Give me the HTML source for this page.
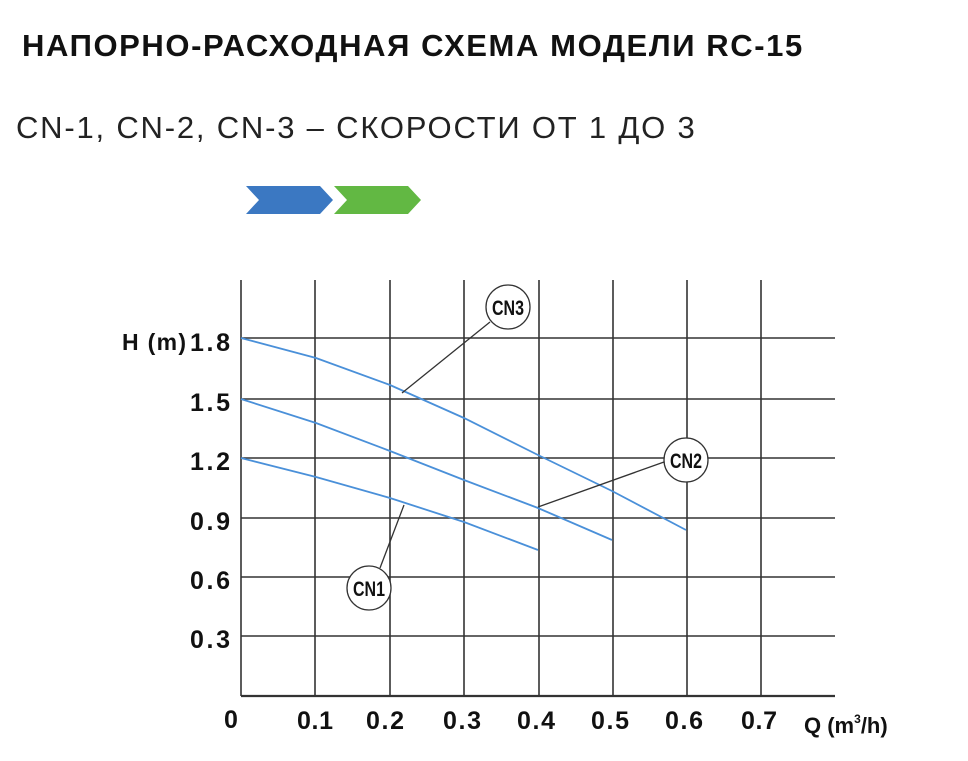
<!DOCTYPE html>
<html><head><meta charset="utf-8"><style>
body{margin:0;background:#fff;width:968px;height:761px;overflow:hidden;font-family:"Liberation Sans",sans-serif}
.t{position:absolute;left:22px;top:28px;font-size:31px;font-weight:bold;color:#111;letter-spacing:1.6px;white-space:nowrap}
.s{position:absolute;left:16px;top:110px;font-size:31px;color:#222;letter-spacing:1.8px;white-space:nowrap}
</style></head><body>
<div class="t">НАПОРНО-РАСХОДНАЯ СХЕМА МОДЕЛИ RC-15</div>
<div class="s">CN-1, CN-2, CN-3 – СКОРОСТИ ОТ 1 ДО 3</div>
<svg width="968" height="761" style="position:absolute;left:0;top:0">
<polygon points="246,186 320,186 333,200 320,214 246,214 259,200" fill="#3b78c2"/>
<polygon points="334,186 408,186 421,200 408,214 334,214 347,200" fill="#62b843"/>
<g stroke="#333" stroke-width="1.6">
<line x1="241" y1="280" x2="241" y2="696"/>
<line x1="315" y1="280" x2="315" y2="696"/><line x1="390" y1="280" x2="390" y2="696"/>
<line x1="464" y1="280" x2="464" y2="696"/><line x1="539" y1="280" x2="539" y2="696"/>
<line x1="613" y1="280" x2="613" y2="696"/><line x1="687" y1="280" x2="687" y2="696"/>
<line x1="761" y1="280" x2="761" y2="696"/>
<line x1="241" y1="338" x2="835" y2="338"/><line x1="241" y1="399" x2="835" y2="399"/>
<line x1="241" y1="458" x2="835" y2="458"/><line x1="241" y1="518" x2="835" y2="518"/>
<line x1="241" y1="577" x2="835" y2="577"/><line x1="241" y1="636" x2="835" y2="636"/>
<line x1="241" y1="696" x2="835" y2="696" stroke-width="2.2"/>
</g>
<g fill="none" stroke="#4a90d9" stroke-width="1.8">
<polyline points="241,338 316,358 390,385 464,418 538,455 612,491 686,530"/>
<polyline points="241,399 316,423 390,451 464,480 538,508 612,540"/>
<polyline points="241,458 316,477 390,498 464,522 538,550"/>
</g>
<g stroke="#333" stroke-width="1.3" fill="#fff">
<line x1="402" y1="393" x2="490" y2="322"/>
<line x1="538" y1="507" x2="664" y2="462"/>
<line x1="404" y1="505" x2="380" y2="568"/>
<circle cx="508" cy="307" r="22"/>
<circle cx="686" cy="460" r="22"/>
<circle cx="369" cy="588" r="22"/>
</g>
<g font-family="Liberation Sans" font-weight="bold" fill="#111" font-size="21" text-anchor="middle">
<text x="508" y="315" textLength="32" lengthAdjust="spacingAndGlyphs">CN3</text>
<text x="686" y="468" textLength="32" lengthAdjust="spacingAndGlyphs">CN2</text>
<text x="369" y="596" textLength="32" lengthAdjust="spacingAndGlyphs">CN1</text>
</g>
<g font-family="Liberation Sans" font-weight="bold" fill="#111" font-size="25">
<text x="190" y="351" textLength="40" lengthAdjust="spacing">1.8</text>
<text x="190" y="411" textLength="40" lengthAdjust="spacing">1.5</text>
<text x="190" y="470" textLength="40" lengthAdjust="spacing">1.2</text>
<text x="190" y="530" textLength="40" lengthAdjust="spacing">0.9</text>
<text x="190" y="589" textLength="40" lengthAdjust="spacing">0.6</text>
<text x="190" y="648" textLength="40" lengthAdjust="spacing">0.3</text>
<text x="122" y="350" font-size="23" textLength="64" lengthAdjust="spacing">H (m)</text>
<text x="224" y="728">0</text>
<text x="297" y="729" textLength="36" lengthAdjust="spacing">0.1</text>
<text x="366" y="729" textLength="38" lengthAdjust="spacing">0.2</text>
<text x="443" y="729" textLength="38" lengthAdjust="spacing">0.3</text>
<text x="517" y="729" textLength="38" lengthAdjust="spacing">0.4</text>
<text x="591" y="729" textLength="38" lengthAdjust="spacing">0.5</text>
<text x="665" y="729" textLength="38" lengthAdjust="spacing">0.6</text>
<text x="741" y="729" textLength="36" lengthAdjust="spacing">0.7</text>
<text x="804" y="733" font-size="22">Q (m<tspan font-size="12" dy="-10">3</tspan><tspan dy="10">/h)</tspan></text>
</g>
</svg>
</body></html>
